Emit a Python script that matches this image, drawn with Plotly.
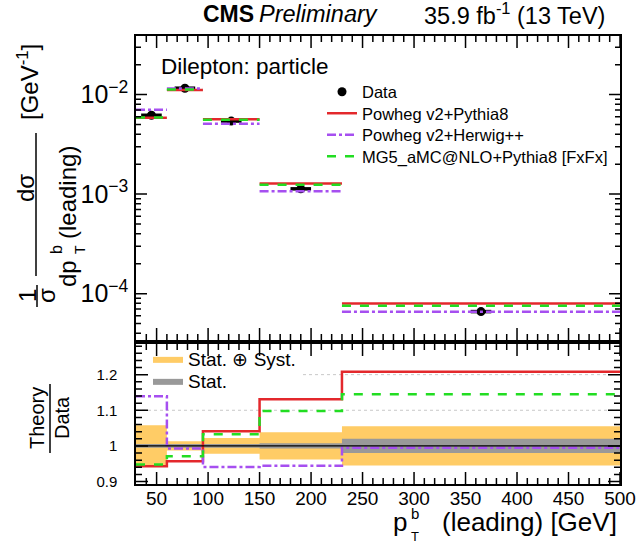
import math
import plotly.graph_objects as go

# ---------------- data ----------------
bin_edges = [30, 60, 95, 150, 230, 500]
bin_centers = [45, 77.5, 122.5, 190, 365]

data_xsec = [6.2e-3, 1.16e-2, 5.42e-3, 1.13e-3, 6.6e-5]
pythia_xsec = [5.85e-3, 1.11e-2, 5.64e-3, 1.28e-3, 7.97e-5]
herwig_xsec = [7.06e-3, 1.152e-2, 5.10e-3, 1.067e-3, 6.57e-5]
mg5_xsec = [5.88e-3, 1.126e-2, 5.60e-3, 1.241e-3, 7.56e-5]

pythia_ratio = [0.943, 0.957, 1.041, 1.131, 1.208]
herwig_ratio = [1.139, 0.993, 0.941, 0.944, 0.995]
mg5_ratio = [0.948, 0.971, 1.033, 1.098, 1.145]

tot_unc = [0.058, 0.013, 0.022, 0.038, 0.055]
stat_unc = [0.005, 0.004, 0.005, 0.0075, 0.02]

x_tick_vals = [50, 100, 150, 200, 250, 300, 350, 400, 450, 500]
x_minor_step = 10
ratio_tick_vals = [0.9, 1.0, 1.1, 1.2]
ratio_tick_text = ["0.9", "1", "1.1", "1.2"]
ratio_minor_step = 0.02
ratio_grid_vals = [1.1, 1.2]

X_RANGE = [30, 500]
LOG_RANGE = [-4.466, -1.411]
RATIO_RANGE = [0.893, 1.286]

RED = "#e3282c"
PURPLE = "#a64ff0"
GREEN = "#22dd22"
YELLOW = "#ffcc66"
GRAY = "#999999"
FONT = "Liberation Sans, Arial, Helvetica, sans-serif"

# ---------------- geometry helpers ----------------
W, H = 641, 543
L, R, T, B = 136, 620, 36, 484
TOP_PANEL_BOTTOM = 340
BOT_PANEL_TOP = 344


def px(x):
    return (x - L) / (R - L)


def py(y):
    return (B - y) / (B - T)


def segments(edges, vals):
    xs, ys = [], []
    for i, v in enumerate(vals):
        xs += [edges[i], edges[i + 1], None]
        ys += [v, v, None]
    return xs, ys


def band(edges, center, unc):
    xs, up, lo = [], [], []
    for i, u in enumerate(unc):
        xs += [edges[i], edges[i + 1]]
        up += [center + u, center + u]
        lo += [center - u, center - u]
    return xs + xs[::-1], up + lo[::-1]


fig = go.Figure()

# ---------------- top panel ----------------
models = [
    ("Powheg v2+Pythia8", pythia_xsec, pythia_ratio, RED, "solid"),
    ("Powheg v2+Herwig++", herwig_xsec, herwig_ratio, PURPLE, "dashdot"),
    ("MG5_aMC@NLO+Pythia8 [FxFx]", mg5_xsec, mg5_ratio, GREEN, "dash"),
]
top_legend_ids = ["legend3", "legend4", "legend5"]

fig.add_trace(go.Scatter(
    x=bin_centers, y=data_xsec, mode="markers", name="Data",
    marker=dict(color="black", size=9),
    error_x=dict(type="constant", value=10, thickness=3.5, width=0, color="black"),
    xaxis="x", yaxis="y", legend="legend",
))
for k, (name, xs_vals, _, col, dash) in enumerate(models):
    sx, sy = segments(bin_edges, xs_vals)
    fig.add_trace(go.Scatter(
        x=sx, y=sy, mode="lines", name=name,
        line=dict(color=col, width=2.5, dash=dash),
        xaxis="x", yaxis="y", legend=top_legend_ids[k],
    ))

# ---------------- ratio panel ----------------
for gv in ratio_grid_vals:
    fig.add_shape(type="line", xref="x2 domain", yref="y2",
                  x0=0 if gv < 1.15 else px(303), x1=1, y0=gv, y1=gv,
                  line=dict(color="#c8c8c8", width=1, dash="dot"), layer="below")

bx, by = band(bin_edges, 1.0, tot_unc)
fig.add_trace(go.Scatter(
    x=bx, y=by, fill="toself", mode="lines", line=dict(width=0, color=YELLOW),
    fillcolor=YELLOW, name="Stat. \u2295 Syst.", xaxis="x2", yaxis="y2",
    legend="legend2", hoverinfo="skip",
))
sxb, syb = band(bin_edges, 1.0, stat_unc)
fig.add_trace(go.Scatter(
    x=sxb, y=syb, fill="toself", mode="lines", line=dict(width=0, color=GRAY),
    fillcolor=GRAY, name="Stat.", xaxis="x2", yaxis="y2",
    legend="legend6", hoverinfo="skip",
))

fig.add_shape(type="line", xref="x2 domain", yref="y2", x0=0, x1=1, y0=1, y1=1,
              line=dict(color="black", width=1.3))

for name, _, ratio, col, dash in models:
    fig.add_trace(go.Scatter(
        x=bin_edges, y=ratio + [ratio[-1]], mode="lines", line_shape="hv",
        line=dict(color=col, width=2.5, dash=dash), showlegend=False,
        xaxis="x2", yaxis="y2",
    ))

# ---------------- axes (frame + labels; tick marks drawn below) ----------------
axis_common = dict(showline=True, linecolor="black", linewidth=1.5, mirror=True,
                   ticks="", showgrid=False, zeroline=False)

top_dom = [py(TOP_PANEL_BOTTOM), 1]
bot_dom = [0, py(BOT_PANEL_TOP)]

fig.update_layout(
    xaxis=dict(axis_common, domain=[0, 1], range=X_RANGE, anchor="y",
               tickvals=x_tick_vals, showticklabels=False),
    yaxis=dict(axis_common, domain=top_dom, type="log", range=LOG_RANGE, anchor="x",
               dtick=1, exponentformat="power", ticklabelstandoff=2,
               tickfont=dict(size=20, family=FONT, color="black")),
    xaxis2=dict(axis_common, domain=[0, 1], range=X_RANGE, anchor="y2",
                tickvals=x_tick_vals, ticklabelstandoff=-4,
                tickfont=dict(size=19, family=FONT, color="black")),
    yaxis2=dict(axis_common, domain=bot_dom, range=RATIO_RANGE, anchor="x2",
                tickvals=ratio_tick_vals, ticktext=ratio_tick_text,
                ticklabelstandoff=14,
                tickfont=dict(size=15, family=FONT, color="black")),
)

# ---------------- inside tick marks on all four sides of both panels ----------------
top_h = TOP_PANEL_BOTTOM - T
bot_h = B - BOT_PANEL_TOP
plot_w = R - L
TICK_STYLE = dict(color="black", width=1.5)

x_minor_vals = [v for v in range(X_RANGE[0], X_RANGE[1] + 1, x_minor_step)
                if v not in x_tick_vals and X_RANGE[0] < v < X_RANGE[1]]


def x_tick_path(panel_h, major_len, minor_len):
    parts = []
    for vals, ln in ((x_tick_vals, major_len), (x_minor_vals, minor_len)):
        f = ln / panel_h
        for v in vals:
            parts.append("M%g,0 L%g,%.5f" % (v, v, f))
            parts.append("M%g,1 L%g,%.5f" % (v, v, 1 - f))
    return " ".join(parts)


def y_tick_path(fracs_major, fracs_minor, major_len, minor_len):
    parts = []
    for fr, ln in ((fracs_major, major_len), (fracs_minor, minor_len)):
        f = ln / plot_w
        for v in fr:
            parts.append("M0,%.5f L%.5f,%.5f" % (v, f, v))
            parts.append("M1,%.5f L%.5f,%.5f" % (v, 1 - f, v))
    return " ".join(parts)


fig.add_shape(type="path", xref="x", yref="y domain", path=x_tick_path(top_h, 12, 6),
              line=TICK_STYLE, layer="above")
fig.add_shape(type="path", xref="x2", yref="y2 domain", path=x_tick_path(bot_h, 12, 6),
              line=TICK_STYLE, layer="above")

# log axis ticks (decades major, 2..9 minor) as fractions of the axis range
log_major, log_minor = [], []
for e in range(math.floor(LOG_RANGE[0]), math.ceil(LOG_RANGE[1]) + 1):
    for m in range(1, 10):
        lv = math.log10(m) + e
        if LOG_RANGE[0] < lv < LOG_RANGE[1]:
            fr = (lv - LOG_RANGE[0]) / (LOG_RANGE[1] - LOG_RANGE[0])
            (log_major if m == 1 else log_minor).append(fr)
fig.add_shape(type="path", xref="x domain", yref="y domain",
              path=y_tick_path(log_major, log_minor, 11, 5), line=TICK_STYLE, layer="above")

r_major, r_minor = [], []
n_steps = int(round((RATIO_RANGE[1] - ratio_tick_vals[0]) / ratio_minor_step))
for i in range(n_steps + 1):
    v = round(ratio_tick_vals[0] + i * ratio_minor_step, 4)
    if RATIO_RANGE[0] < v < RATIO_RANGE[1]:
        fr = (v - RATIO_RANGE[0]) / (RATIO_RANGE[1] - RATIO_RANGE[0])
        (r_major if any(abs(v - t) < 1e-6 for t in ratio_tick_vals) else r_minor).append(fr)
fig.add_shape(type="path", xref="x2 domain", yref="y2 domain",
              path=y_tick_path(r_major, r_minor, 12, 6), line=TICK_STYLE, layer="above")


# ---------------- legends ----------------
def leg(xp, yc, size):
    return dict(x=px(xp), y=py(yc), xanchor="left", yanchor="middle",
                bgcolor="rgba(0,0,0,0)", font=dict(size=size, family=FONT, color="black"),
                tracegroupgap=0, itemwidth=30)


fig.update_layout(
    legend=leg(322, 92, 16.5),
    legend3=leg(322, 113.5, 16.5),
    legend4=leg(322, 135, 16.5),
    legend5=leg(322, 156.5, 16.5),
    legend2=leg(148, 359, 19),
    legend6=leg(148, 381, 19),
)

# ---------------- text ----------------
ann = []


def add_text(text, x, y, size, xanchor="center", yanchor="middle", angle=0, **kw):
    ann.append(dict(text=text, x=px(x), y=py(y), xref="paper", yref="paper",
                    xanchor=xanchor, yanchor=yanchor, showarrow=False, textangle=angle,
                    font=dict(size=size, family=FONT, color="black"), **kw))


add_text("<b>CMS</b>", 201, 14, 23, xanchor="left")
add_text("<i>Preliminary</i>", 257, 14, 23.5, xanchor="left")
add_text("35.9 fb<sup>-1</sup> (13 TeV)", 607, 14, 23.5, xanchor="right")
add_text("Dilepton: particle", 159, 66, 22.5, xanchor="left")

# x title: p_T^b (leading) [GeV]
add_text("(leading) [GeV]", 619, 522, 26, xanchor="right")
add_text("p", 400, 522, 26)
add_text("b", 415, 513, 15)
add_text("T", 415, 536, 13)

# y title top: 1/sigma dsigma/dpT
add_text("1", 27, 296, 24, angle=-90)
add_text("\u03c3", 46, 296, 24, angle=-90)
add_text("d\u03c3", 25, 188, 24, angle=-90)
add_text("(leading)", 67, 193, 24, angle=-90)
add_text("dp", 67, 274, 24, angle=-90)
add_text("b", 56, 250, 16, angle=-90)
add_text("T", 80, 250, 14, angle=-90)
add_text("[GeV<sup>-1</sup>]", 28, 82, 24, angle=-90)

# y title bottom: Theory/Data
add_text("Theory", 37, 418, 20, angle=-90)
add_text("Data", 62, 418, 20, angle=-90)

fig.update_layout(annotations=ann)

for s in [
    dict(type="line", xref="paper", yref="paper", x0=px(37), x1=px(37),
         y0=py(285), y1=py(307), line=dict(color="black", width=1.5)),
    dict(type="line", xref="paper", yref="paper", x0=px(36), x1=px(36),
         y0=py(133), y1=py(276), line=dict(color="black", width=1.5)),
    dict(type="line", xref="paper", yref="paper", x0=px(50), x1=px(50),
         y0=py(384), y1=py(453), line=dict(color="black", width=1.5)),
]:
    fig.add_shape(**s)

fig.update_layout(
    width=W, height=H,
    margin=dict(l=L, r=W - R, t=T, b=H - B, autoexpand=False),
    paper_bgcolor="white", plot_bgcolor="white",
    font=dict(family=FONT, color="black"),
    showlegend=True,
)

fig.write_html("out.html")
